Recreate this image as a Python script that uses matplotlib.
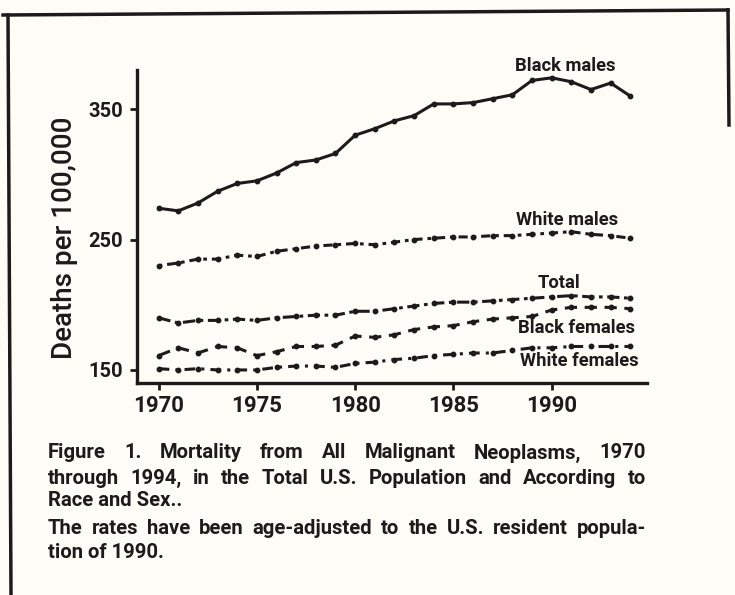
import matplotlib
matplotlib.use("Agg")
import matplotlib.pyplot as plt
from matplotlib.lines import Line2D

# data (deaths per 100,000, age-adjusted)
years = list(range(1970, 1995))
black_males = [274, 272, 278, 287, 293, 295, 301, 309, 311, 316,
               330, 335, 341, 345, 354, 354, 355, 358, 361, 372,
               374, 371, 365, 370, 360]
white_males = [230, 232, 235, 235, 238, 237, 241, 243, 245, 246,
               247, 246, 248, 250, 251, 252, 252, 253, 253, 254,
               255, 256, 254, 253, 251]
total = [190, 186, 188, 188, 189, 188, 190, 191, 192, 192,
         195, 195, 197, 199, 201, 202, 202, 203, 204, 205,
         206, 207, 206, 206, 205]
black_females = [161, 167, 163, 168, 167, 161, 164, 168, 168, 169,
                 176, 175, 177, 181, 183, 184, 187, 189, 190, 191,
                 196, 198, 198, 198, 197]
white_females = [151, 150, 151, 150, 150, 150, 152, 153, 153, 152,
                 155, 156, 158, 159, 161, 162, 163, 163, 165, 167,
                 167, 168, 168, 168, 168]

series_names = ["Black males", "White males", "Total", "Black females", "White females"]
label_pos = [(1988.15, 383), (1988.2, 265), (1989.3, 217), (1988.3, 182), (1988.4, 157)]

caption_1 = ["Figure 1. Mortality from All Malignant Neoplasms, 1970",
             "through 1994, in the Total U.S. Population and According to",
             "Race and Sex.."]
caption_2 = ["The rates have been age-adjusted to the U.S. resident popula-",
             "tion of 1990."]

ink = "#1b1b1b"
paper = "#fdfcf7"
plt.rcParams["font.family"] = ["Roboto", "DejaVu Sans"]

W, H = 735, 595
fig = plt.figure(figsize=(W / 100, H / 100), dpi=100, facecolor=paper)
ax = fig.add_axes([137 / W, 1 - 383 / H, (647 - 137) / W, (383 - 70) / H])
ax.set_facecolor(paper)

styles = [
    dict(linestyle="-"),
    dict(linestyle=(0, (1.2, 1.6, 3, 1.6))),
    dict(linestyle=(0, (4, 1.5, 1.2, 1.5))),
    dict(linestyle=(0, (4, 2.5))),
    dict(linestyle=(0, (3.5, 2, 1, 2))),
]
for vals, st in zip([black_males, white_males, total, black_females, white_females], styles):
    ax.plot(years, vals, color=ink, lw=2.2, marker="o", ms=3.2, mec=ink, mfc=ink, **st)

for name, (x, y) in zip(series_names, label_pos):
    ax.text(x, y, name, ha="left", va="center", fontsize=13.2, fontweight="bold", color=ink)

ax.set_xlim(1968.9, 1994.85)
ax.set_ylim(140, 380)
ax.set_xticks([1970, 1975, 1980, 1985, 1990])
ax.set_yticks([150, 250, 350])
for s in ["top", "right"]:
    ax.spines[s].set_visible(False)
for s in ["left", "bottom"]:
    ax.spines[s].set_linewidth(2.4)
    ax.spines[s].set_color(ink)
ax.tick_params(axis="x", direction="out", length=5, width=2, pad=4, labelsize=16, colors=ink)
ax.tick_params(axis="y", direction="out", length=5, width=2, pad=5, labelsize=14.5, colors=ink)
for lab in ax.get_xticklabels() + ax.get_yticklabels():
    lab.set_fontweight("bold")
ax.set_ylabel("Deaths per 100,000", fontsize=20, fontweight="medium", color=ink)
ax.yaxis.set_label_coords((78 - 137) / (647 - 137), (383 - 238) / (383 - 70))

# caption, justified like the printed page
renderer = fig.canvas.get_renderer()
x0, x1 = 48, 646
cap_kw = dict(fontsize=14.6, fontweight="bold", color=ink, va="center", ha="left")


def put_line(text, ypix, justify):
    if not justify:
        fig.text(x0 / W, 1 - ypix / H, text, **cap_kw)
        return
    words = text.split(" ")
    objs = [fig.text(0, 1 - ypix / H, w, **cap_kw) for w in words]
    widths = [o.get_window_extent(renderer).width for o in objs]
    gap = (x1 - x0 - sum(widths)) / (len(words) - 1)
    x = x0
    for o, w in zip(objs, widths):
        o.set_x(x / W)
        x += w + gap


for i, (line, y) in enumerate(zip(caption_1, [453, 478, 501])):
    put_line(line, y, i < 2)
put_line(caption_2[0], 529, True)
put_line(caption_2[1], 552, False)

# scanned page frame
fig.add_artist(Line2D([3 / W, 728 / W], [1 - 15 / H, 1 - 10 / H], color=ink, lw=2.5))
fig.add_artist(Line2D([8 / W, 11 / W], [1 - 15 / H, 0], color=ink, lw=2.5))
fig.add_artist(Line2D([728 / W, 729 / W], [1 - 10 / H, 1 - 125 / H], color=ink, lw=2.5))

fig.savefig("out.png", dpi=100, facecolor=paper)
